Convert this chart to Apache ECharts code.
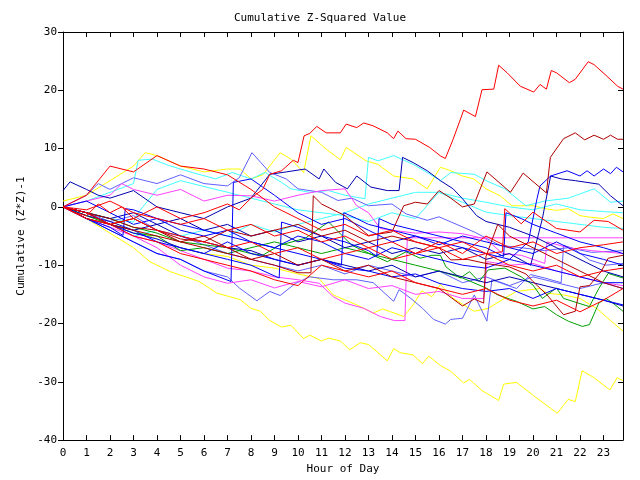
<!DOCTYPE html>
<html><head><meta charset="utf-8">
<script src="https://cdn.jsdelivr.net/npm/echarts@6/dist/echarts.min.js"></script>
<style>html,body{margin:0;padding:0;background:#fff}#c{width:640px;height:480px}</style>
</head><body><div id="c"></div>
<script>
const X_MAX = 23.83;
const TITLE = "Cumulative Z-Squared Value";
const X_NAME = "Hour of Day";
const Y_NAME = "Cumulative (Z*Z)-1";

// each series: [hour, value]
const red1 = [[0,0],[0.5,-1],[1,-1.5],[1.5,0.5],[2,-1],[2.5,0],[3,-2],[3.5,-1],[4,0],[5,-2],[6,-1],[7,0.5],[7.5,-0.5],[8,1.5],[8.5,3],[8.8,5.6],[9.3,6.2],[9.8,8],[10,7.6],[10.26,12.2],[10.5,12.6],[10.8,13.8],[11.2,12.7],[11.8,12.7],[12.05,14.2],[12.5,13.6],[12.8,14.4],[13.2,13.9],[13.8,12.7],[14.07,11.7],[14.25,13.0],[14.6,11.7],[15,11.6],[15.6,10.2],[16.06,8.75],[16.27,8.3],[16.6,11.6],[16.9,14.9],[17.05,16.6],[17.55,15.5],[17.83,20.1],[18.33,20.2],[18.54,24.3],[18.9,23.0],[19.46,20.7],[20.03,19.7],[20.3,21.0],[20.57,20.2],[20.78,23.4],[21,23.0],[21.55,21.3],[21.8,21.9],[22.35,24.9],[22.6,24.4],[23.15,22.4],[23.6,20.7],[23.83,20.2]];
const darkred1 = [[0,0],[1,-2],[2,-3],[3,-4],[4,-5],[5,-6],[6,-7],[7,-8],[8,-9],[9,-10],[10,-11.3],[10.55,-11.3],[10.65,1.9],[11,0.5],[12,-1.5],[13,-4.9],[14,-4.3],[14.5,0.2],[15,0.8],[15.5,0.5],[16,2.8],[16.5,1.5],[17,0],[17.5,0.5],[18.04,6],[19.04,2.5],[19.58,5.8],[20.57,2.4],[20.74,8.5],[21.3,11.7],[21.8,12.7],[22.2,11.5],[22.6,12.3],[23,11.6],[23.3,12.3],[23.6,11.6],[23.83,11.6]];
const yellow1 = [[0,1],[1,2],[2,4.5],[3,7],[3.5,9.3],[4,8.8],[5,7],[6,6],[7,6.5],[7.54,6.5],[8,4.8],[8.5,5.5],[9.24,9.3],[9.7,8.2],[10.24,5.9],[10.55,12.2],[11.2,9.9],[11.8,8.1],[12.05,10.2],[12.9,7.9],[13.4,7.3],[14.07,5.3],[14.9,4.8],[15.5,3.1],[16.06,6.8],[16.5,6.2],[17,5.3],[17.48,4.8],[18,3.1],[18.6,1.9],[19.1,0.2],[20,0.2],[20.5,-0.3],[21,-0.6],[21.5,-0.3],[22,-1.5],[22.5,-1.8],[23,-2],[23.4,-1.2],[23.83,-2]];
const yellow3 = [[0,0],[1,-2],[2,-4.5],[3,-7],[3.7,-9.4],[4.56,-11.1],[5.8,-12.8],[6.55,-14.8],[7.54,-15.9],[8,-17.4],[8.4,-17.9],[8.8,-19.5],[9.3,-20.6],[9.7,-20.3],[10.24,-22.6],[10.5,-22.0],[11,-23.0],[11.3,-22.5],[11.8,-23.0],[12.2,-24.5],[12.65,-23.3],[13,-23.6],[13.8,-26.4],[14.07,-24.3],[14.35,-25.0],[14.9,-25.4],[15.3,-26.9],[15.56,-25.6],[16.06,-27.2],[16.5,-28.2],[17.05,-30.2],[17.3,-29.6],[17.83,-31.5],[18.54,-33.2],[18.75,-30.4],[19.3,-30.1],[20.03,-32.4],[20.6,-34.1],[21.03,-35.4],[21.5,-33.0],[21.8,-33.4],[22.09,-28.1],[22.6,-29.3],[23.27,-31.4],[23.58,-29.3],[23.83,-29.8]];
const yellow2 = [[0,0],[1,-1.5],[2,-3],[3,-4],[4,-5.5],[5,-7],[6,-8],[7,-8.5],[8,-10],[9,-10.5],[10,-11.5],[10.9,-12.3],[11.5,-15.1],[12.5,-16.8],[13.2,-18.2],[13.6,-17.5],[14.5,-18.8],[14.9,-16.8],[15.27,-14.4],[15.7,-15.4],[16.06,-13.3],[16.6,-15.7],[17.5,-17.9],[18.1,-17.4],[18.9,-15.4],[19.3,-14.5],[20.3,-14],[20.6,-14.8],[21.3,-15.1],[22,-15.7],[22.7,-17.4],[23.3,-19.5],[23.83,-21.3]];
const magenta1 = [[0,0],[1,-2],[2,-3],[3,-5],[4,-6],[5,-7.5],[6,-9],[7,-10.5],[8,-11],[9,-12],[10,-12.5],[10.9,-13.1],[11.5,-15.4],[12,-16.5],[12.8,-17.4],[13.5,-18.8],[14.1,-19.5],[14.55,-19.5],[14.65,-5.3],[23.83,-5.3]];
const magenta2 = [[0,0],[1,1],[2,2],[2.5,4],[3,3],[4,2],[5,3],[6,1],[7,2],[8,1.9],[9,1],[10,2],[11,2.8],[12,3.1],[12.5,0.2],[13,-1],[13.5,-3.7],[14,-4],[15,-4.5],[16,-4.3],[17,-4.6],[18,-5.5],[18.7,-8],[19.5,-8.3],[20.5,-9.7],[20.6,-6],[21.5,-7],[22.5,-7.5],[23.83,-8]];
const magenta3 = [[0,0],[1,-2],[2,-3.5],[3,-5],[4,-7],[5,-10],[6,-12],[7,-13.1],[8,-12.5],[9,-13.9],[10,-12.8],[11,-13.7],[12,-12.5],[13,-14],[14,-13.5],[15,-15],[16,-14.5],[17,-15.7],[17.9,-15.7],[18.05,-9.4],[19,-10],[20,-9.7],[21,-11],[22,-12],[23,-13],[23.83,-13.5]];
const blue1 = [[0,0],[1,1],[2,-1],[3,-3],[4,-2],[5,-4],[6,-5],[7,-4],[8,-6],[9,-7],[10,-5],[11,-6],[12,-8],[13,-9],[14,-7],[15,-8],[16,-9],[17,-10],[18,-10.5],[19,-9],[19.8,-6],[20.17,1.4],[20.3,3.6],[20.75,5.3],[21.45,6.2],[22,5.3],[22.3,6.2],[22.6,5.3],[23,6.5],[23.3,5.7],[23.55,6.8],[23.83,6.0]];
const blue2 = [[0,0],[1,-1],[2,-3],[3,-4.5],[4,-5.5],[5,-7],[6,-8],[7,-6],[8,-8],[9,-9],[10,-10],[11,-9],[12,-10.5],[13,-11],[14,-12],[15,-11.5],[16,-13.1],[17,-14],[18,-14.5],[19,-14],[20,-15.7],[21,-14],[22,-15],[23,-16],[23.83,-16.8]];
const blue3 = [[0,0],[1,-2],[2,-4],[3,-6],[4,-8],[5,-9],[6,-11],[7.15,-12.8],[7.25,4.2],[8,4.8],[9,2],[10,-1],[11,-3],[12,-2],[13,-4],[14,-6],[15,-5],[16,-6.5],[17,-5],[18,-6],[19,-7],[20,-8],[21,-6],[22,-8],[23,-9],[23.83,-10]];
const blue4 = [[0,0],[1,-2],[2,-3.5],[2.55,-4.9],[2.65,-0.3],[3,-0.5],[4,-2],[5,-3],[6,-4],[7,-5],[8,-6],[9,-7],[10,-8],[11,-9],[11.85,-10],[11.95,-1],[12.5,-2],[13,-3],[14,-4],[15,-5],[16,-6],[17,-7],[18,-8],[19,-9],[20,-10],[21,-11],[22,-12],[23,-13],[23.83,-13]];
const blue5 = [[0,0],[1,-1],[2,-3],[3,-4],[4,-6],[5,-7],[6,-8],[7,-9],[8,-10],[9.2,-12.2],[9.3,-2.6],[10,-3.5],[11,-5],[12,-6],[13,-7.5],[13.35,-8.5],[13.45,-2],[14,-3],[15,-4],[16,-5],[17,-6],[18,-7],[18.75,-8.5],[18.85,-1],[19.5,-2],[20,-3],[21,-4.5],[22,-6],[23,-7],[23.83,-8]];
const navy1 = [[0,2.8],[0.3,4.3],[1,3],[1.5,2],[2,1.5],[3,2.8],[4,0],[5,-1],[6,-2],[7,0],[8,1.5],[8.8,5.6],[9.5,6],[10.3,6.5],[10.9,4.8],[11.1,6.5],[11.6,4.2],[12.1,3.1],[12.5,5.3],[13.1,3.4],[13.8,2.8],[14.3,2.8],[14.45,8.5],[14.9,7.6],[15.5,6.2],[16.06,4.5],[16.6,3.1],[17,1.4],[17.6,-1.5],[18,-2.5],[19,-3.5],[20,-5],[21,-7],[22,-9],[23,-11],[23.83,-12]];
const navy2 = [[0,0],[1,-1],[2,-2],[3,-1],[4,-3],[5,-2],[6,-4],[7,-3],[8,-5],[9,-4],[10,-6],[11,-5],[12,-7],[13,-6],[14,-8],[15,-7],[16,-8],[17,-7],[18,-9],[19,-8],[19.9,-10],[20.4,-2],[20.75,5.3],[21.2,4.8],[21.8,4.5],[22.3,4.2],[22.8,3.9],[23.3,1.9],[23.83,0.2]];
const navy3 = [[0,0],[1,-1.5],[2,-2.5],[3,-4],[4,-3],[5,-5],[6,-6],[7,-7],[8,-7.5],[9,-9],[10,-10],[11,-9],[12,-10],[13,-11],[14,-10],[15,-12],[16,-11],[17,-12],[18,-13],[19,-12],[20,-13],[21,-14],[22,-15],[23,-16],[23.83,-17]];
const peri1 = [[0,0],[1,2],[1.5,4],[2,3],[3,5],[4,4],[5,5.5],[6,4],[7,3.6],[7.5,5],[8.04,9.3],[8.8,5.9],[9.5,4.8],[10,3.1],[11,2.5],[11.7,1.1],[12.3,1.5],[13,0.2],[14,0.5],[14.6,-1.2],[15.5,-2.3],[16,-1.7],[17.5,-4.3],[18.6,-6.6],[19.5,-7],[20.5,-7.5],[21.5,-7],[22.5,-7.8],[23.83,-7.5]];
const peri2 = [[0,0],[1,-2],[2,-4],[3,-6],[4,-8],[5,-9],[6,-11],[7,-12],[7.5,-13.9],[8.25,-16.1],[8.8,-14.5],[9.24,-15.2],[9.9,-13.1],[10.5,-12],[11.5,-12.5],[12.5,-12.5],[13.2,-13],[14.07,-16.2],[14.3,-14.2],[14.8,-15.7],[15.3,-17.4],[15.77,-19.3],[16.27,-20.1],[16.5,-19.3],[17,-19.1],[17.5,-15.1],[18.04,-19.6],[18.25,-12.5],[19.3,-14],[19.9,-11.6],[20.5,-12.2],[21.2,-13],[21.3,-6.6],[21.7,-7.1],[22.4,-9.1],[23.1,-10],[23.83,-9.7]];
const peri3 = [[0,0],[1,-1],[2,-2.5],[3,-1.5],[4,-4],[5,-5],[6,-6.5],[7,-8],[8,-9],[9,-10],[10,-11],[11,-10],[12,-11.5],[13,-10],[14,-11],[15,-12],[16,-11],[17,-13],[18,-12],[19,-13.5],[20,-12],[21,-13],[22,-14],[23,-13],[23.83,-14]];
const cyan1 = [[0,0],[1,1],[2,2.5],[3,4],[3.2,8],[3.8,8.2],[4.5,7.1],[5.5,5.9],[6.5,4.8],[7.2,5.9],[8,4.8],[8.6,5.9],[9.3,4.2],[9.7,3.1],[10.5,2.5],[11.3,2.8],[12,2],[12.85,1.4],[13,8.5],[13.4,7.9],[14.07,8.8],[14.9,7.3],[15.5,5.9],[16.06,4.5],[16.5,5.9],[17.5,5.6],[18,4.5],[18.8,3.1],[19.7,0.2],[20.5,1],[21.5,1.5],[22.6,3.1],[23.3,0.8],[23.83,1.0]];
const cyan2 = [[0,0],[1,-1],[2,-2],[3,-2.6],[3.2,-1],[4,3],[5,4.5],[6,3.5],[7,2.5],[8,1.5],[9,0.5],[10,-0.5],[11,-1],[12,-1.5],[13,-2.5],[14,-1],[15,-2],[16,2.5],[17,1.5],[18,0.8],[19,0],[20,-0.5],[21,0.5],[22,-0.5],[23,-0.8],[23.83,-1]];
const cyan3 = [[0,0],[1,-2],[2,-3],[3,-5],[4,-4],[5,-5],[6,-4],[7,-5],[8,-3],[9,-4.3],[10,-3],[11,-2],[12,-1],[13,0.5],[14,1.5],[15,2.5],[16,2.5],[17,0.8],[18,-0.9],[19,-1.5],[20,-2],[21,-2.5],[22,-3],[23,-3.5],[23.83,-3.7]];
const red2 = [[0,0],[1,2],[2,7],[3,6],[4,8.8],[5,7],[6,6.5],[7,5.5],[8,3],[9,0],[10,-2],[11,-4],[12,-3],[13,-5],[14,-4],[15,-6],[16,-7],[17,-6],[18,-8],[18.7,-7.7],[18.8,-0.3],[19.5,-2.9],[20,-0.9],[21,-3.7],[22,-4.3],[22.6,-2.3],[23.2,-2.5],[23.83,-4]];
const red3 = [[0,0],[1,-1],[2,-3],[3,-2],[4,-4],[5,-5],[6,-6],[7,-7],[8,-6],[9,-8],[10,-7],[11,-9],[12,-8],[13,-7],[14,-9],[15,-8],[16,-6],[17,-8],[18,-5],[19,-7],[20,-6],[21,-8],[22,-7],[23,-6.5],[23.83,-6]];
const red4 = [[0,0],[1,-2],[2,-3],[3,-5],[4,-6],[5,-8],[6,-9],[7,-10],[8,-11],[9,-12.5],[10,-13.5],[11,-10],[12,-11],[13,-12],[14,-11],[15,-13],[16,-14],[17,-15],[18,-14],[19,-16],[20,-17],[21,-16],[22,-18],[23,-16],[23.83,-14]];
const red5 = [[0,0],[1,-0.5],[2,1],[3,-1],[4,-2],[5,-3],[6,-2],[7,-4],[8,-3],[9,-5],[10,-4],[11,-6],[12,-5],[13,-7],[14,-6],[15,-8],[16,-7],[17,-9],[18,-8],[19,-10],[20,-11],[21,-10],[22,-12],[23,-11],[23.83,-10.5]];
const darkred2 = [[0,0],[1,-1],[2,-2],[3,-3.5],[4,-4],[5,-5.5],[6,-6],[7,-4],[8,-5],[9,-4],[10,-3],[11,-5],[12,-4],[13,-6],[14,-5],[15,-6],[16,-7],[16.5,-9.1],[17.2,-9],[18,-9.7],[19,-10.3],[19.7,-11.5],[20,-12.8],[20.6,-15.1],[21.3,-18.5],[21.8,-17.9],[22.0,-13.7],[22.4,-13.5],[22.9,-11.1],[23.2,-8.8],[23.83,-8.3]];
const darkred3 = [[0,0],[1,-1],[2,-3],[3,-2],[4,-4],[5,-6],[6,-5],[7,-7],[8,-9],[9,-8],[10,-10],[11,-9],[12,-11],[13,-10],[14,-12],[15,-13],[16,-14],[17,-17],[17.5,-15.8],[17.9,-16.5],[18,-8.5],[18.5,-3],[19,-5],[20,-7],[21,-9],[22,-11],[23,-13],[23.83,-14]];
const green1 = [[0,0],[1,-1.5],[2,-3],[3,-4.5],[4,-5],[5,-7.5],[6,-7],[7,-8],[8,-7],[9,-6],[10,-7],[11,-8],[12,-7],[13,-8],[14,-9],[15,-10],[16,-11],[17,-12.2],[18,-13.9],[18.5,-15.1],[19.3,-16.2],[20,-17.5],[20.5,-17.1],[21,-18.5],[21.5,-19.6],[22.1,-20.5],[22.4,-20.2],[22.8,-16.5],[23.1,-15.7],[23.4,-16.5],[23.83,-17.9]];
const green2 = [[0,0],[1,-1],[2,-2],[3,-3.5],[4,-4.5],[5,-6],[6,-6.5],[7,-7],[8,-8],[8.5,-8.3],[9.2,-6.6],[10.3,-5.4],[11.3,-2.6],[11.8,-4.6],[12.3,-6.6],[13.2,-8.3],[13.8,-9.4],[14.6,-7.7],[15.2,-8.8],[15.7,-8.3],[16.06,-8.3],[16.3,-10.3],[16.9,-12.2],[17.3,-11.1],[17.7,-12.8],[18.1,-10.8],[18.8,-10.5],[19.5,-12],[20,-13.4],[20.4,-15.7],[21,-13.9],[21.3,-15.7],[22.4,-17.1],[22.8,-14],[23.2,-11.4],[23.83,-12.2]];

const COLORS = {red:'#ff0000', darkred:'#b00000', green:'#00a000', blue:'#0000ff', navy:'#0000b0', peri:'#6060ff', magenta:'#ff40ff', cyan:'#40ffff', yellow:'#ffff00'};

const SERIES = [
  ['yellow1',yellow1,'yellow'],['yellow2',yellow2,'yellow'],['yellow3',yellow3,'yellow'],
  ['cyan1',cyan1,'cyan'],['cyan2',cyan2,'cyan'],['cyan3',cyan3,'cyan'],
  ['peri1',peri1,'peri'],['peri2',peri2,'peri'],['peri3',peri3,'peri'],
  ['magenta1',magenta1,'magenta'],['magenta2',magenta2,'magenta'],['magenta3',magenta3,'magenta'],
  ['green1',green1,'green'],['green2',green2,'green'],
  ['navy1',navy1,'navy'],['navy2',navy2,'navy'],['navy3',navy3,'navy'],
  ['blue1',blue1,'blue'],['blue2',blue2,'blue'],['blue3',blue3,'blue'],['blue4',blue4,'blue'],['blue5',blue5,'blue'],
  ['darkred1',darkred1,'darkred'],['darkred2',darkred2,'darkred'],['darkred3',darkred3,'darkred'],
  ['red2',red2,'red'],['red3',red3,'red'],['red4',red4,'red'],['red5',red5,'red'],['red1',red1,'red']
];

const FONT = 'DejaVu Sans Mono';
const chart = echarts.init(document.getElementById('c'), null, {renderer:'canvas'});
const axisLine = {show:true, onZero:false, lineStyle:{color:'#000', width:1}};
chart.setOption({
  animation:false,
  backgroundColor:'#fff',
  title:{text:TITLE, left:'center', top:8, textStyle:{fontFamily:FONT, fontSize:11, fontWeight:'normal', color:'#000'}},
  grid:{left:63, right:17, top:32, bottom:37},
  xAxis:[
    {type:'value', min:0, max:X_MAX, interval:1, position:'bottom',
     name:X_NAME, nameLocation:'middle', nameGap:22,
     nameTextStyle:{fontFamily:FONT, fontSize:11, color:'#000'},
     axisLine:axisLine, axisTick:{show:true, inside:true, length:5, lineStyle:{color:'#000'}},
     axisLabel:{fontFamily:FONT, fontSize:11, color:'#000', margin:8, showMaxLabel:false,
       formatter:v=>Number.isInteger(v)?String(v):''},
     splitLine:{show:false}},
    {type:'value', min:0, max:X_MAX, interval:1, position:'top',
     axisLine:axisLine, axisTick:{show:true, inside:true, length:5, lineStyle:{color:'#000'}},
     axisLabel:{show:false}, splitLine:{show:false}}
  ],
  yAxis:[
    {type:'value', min:-40, max:30, interval:10, position:'left',
     name:Y_NAME, nameLocation:'middle', nameGap:33,
     nameTextStyle:{fontFamily:FONT, fontSize:11, color:'#000'},
     axisLine:axisLine, axisTick:{show:true, inside:false, length:5, lineStyle:{color:'#000'}},
     axisLabel:{fontFamily:FONT, fontSize:11, color:'#000', margin:6},
     splitLine:{show:false}},
    {type:'value', min:-40, max:30, interval:10, position:'right',
     axisLine:axisLine, axisTick:{show:true, inside:true, length:5, lineStyle:{color:'#000'}},
     axisLabel:{show:false}, splitLine:{show:false}}
  ],
  series:SERIES.map(([name,data,c])=>({
    name, type:'line', data, showSymbol:false, symbol:'none', clip:true,
    lineStyle:{color:COLORS[c], width:1}, itemStyle:{color:COLORS[c]},
    emphasis:{disabled:true}
  }))
});
</script></body></html>
